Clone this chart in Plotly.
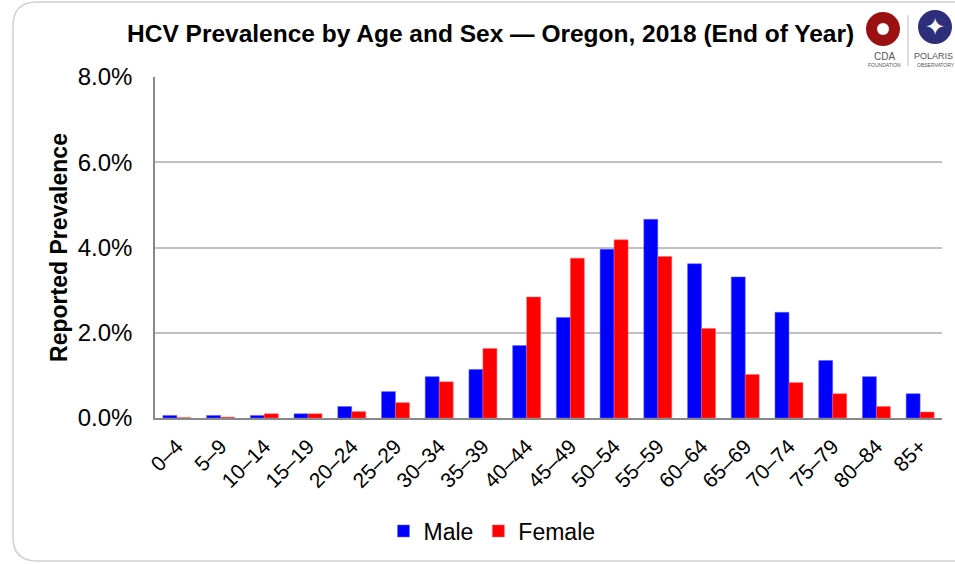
import plotly.graph_objects as go

age_groups = ["0–4", "5–9", "10–14", "15–19", "20–24", "25–29", "30–34", "35–39",
              "40–44", "45–49", "50–54", "55–59", "60–64", "65–69", "70–74",
              "75–79", "80–84", "85+"]
male = [0.06, 0.06, 0.06, 0.10, 0.27, 0.62, 0.97, 1.14, 1.70, 2.36, 3.96, 4.66,
        3.62, 3.31, 2.48, 1.35, 0.97, 0.57]
female = [0.01, 0.02, 0.10, 0.10, 0.15, 0.36, 0.85, 1.63, 2.84, 3.75, 4.18, 3.79,
          2.10, 1.02, 0.83, 0.57, 0.27, 0.14]
y_ticks = [0, 2, 4, 6, 8]
y_tick_labels = ["0.0%", "2.0%", "4.0%", "6.0%", "8.0%"]

W, H = 955, 564
L, R, T, B = 155, 13, 77, 146
pw, ph = W - L - R, H - T - B

def px(x):
    return (x - L) / pw

def py(y):
    return (H - B - y) / ph

FONT = "Liberation Sans, Arial, sans-serif"

fig = go.Figure()
fig.add_trace(go.Bar(x=age_groups, y=male, name="Male", marker_color="#0000FF",
                     marker_line_color="#6666ff", marker_line_width=0.5))
fig.add_trace(go.Bar(x=age_groups, y=female, name="Female", marker_color="#FF0000",
                     marker_line_color="#ff6666", marker_line_width=0.5))

# rounded card border
x0, x1, y0, y1, r = 13, 975, 2, 561, 24
rx, ry = r / pw, r / ph
path = (f"M {px(x0)+rx},{py(y0)} L {px(x1)},{py(y0)} L {px(x1)},{py(y1)} "
        f"L {px(x0)+rx},{py(y1)} Q {px(x0)},{py(y1)} {px(x0)},{py(y1)+ry} "
        f"L {px(x0)},{py(y0)-ry} Q {px(x0)},{py(y0)} {px(x0)+rx},{py(y0)} Z")
shapes = [dict(type="path", xref="paper", yref="paper", path=path,
               line=dict(color="#d0d0d0", width=1.5), layer="below")]
# logos (approximate)
shapes.append(dict(type="circle", xref="paper", yref="paper",
                   x0=px(866), x1=px(900), y0=py(46), y1=py(12),
                   fillcolor="#9B1111", line=dict(width=0)))
shapes.append(dict(type="circle", xref="paper", yref="paper",
                   x0=px(877), x1=px(889), y0=py(35), y1=py(23),
                   fillcolor="white", line=dict(width=0)))
shapes.append(dict(type="line", xref="paper", yref="paper",
                   x0=px(908), x1=px(908), y0=py(15), y1=py(66),
                   line=dict(color="#bbbbbb", width=1)))
shapes.append(dict(type="circle", xref="paper", yref="paper",
                   x0=px(918), x1=px(952), y0=py(44), y1=py(10),
                   fillcolor="#2d2f7a", line=dict(width=0)))

annotations = [
    dict(text="<b>HCV Prevalence by Age and Sex — Oregon, 2018 (End of Year)</b>",
         x=px(490), y=py(34), xref="paper", yref="paper", showarrow=False,
         font=dict(family=FONT, size=24.5, color="black"), xanchor="center", yanchor="middle"),
    dict(text="✦", x=px(935), y=py(27), xref="paper", yref="paper", showarrow=False,
         font=dict(size=24, color="white"), xanchor="center", yanchor="middle"),
    dict(text="CDA", x=px(884), y=py(56), xref="paper", yref="paper", showarrow=False,
         font=dict(family=FONT, size=10, color="#555"), xanchor="center", yanchor="middle"),
    dict(text="FOUNDATION", x=px(884), y=py(65), xref="paper", yref="paper", showarrow=False,
         font=dict(family=FONT, size=5, color="#555"), xanchor="center", yanchor="middle"),
    dict(text="POLARIS", x=px(912), y=py(56), xref="paper", yref="paper", showarrow=False,
         font=dict(family=FONT, size=9, color="#555"), xanchor="left", yanchor="middle"),
    dict(text="OBSERVATORY", x=px(915), y=py(65), xref="paper", yref="paper", showarrow=False,
         font=dict(family=FONT, size=5, color="#555"), xanchor="left", yanchor="middle"),
]

fig.update_layout(
    width=W, height=H,
    margin=dict(l=L, r=R, t=T, b=B),
    paper_bgcolor="white", plot_bgcolor="white",
    barmode="group", bargap=0.36, bargroupgap=0,
    font=dict(family=FONT, color="black"),
    showlegend=True,
    legend=dict(orientation="h", x=px(492), xanchor="center", y=py(531), yanchor="middle",
                font=dict(family=FONT, size=23, color="black"),
                itemwidth=30, traceorder="normal"),
    shapes=shapes,
    annotations=annotations,
    xaxis=dict(tickangle=-45, tickfont=dict(family=FONT, size=21, color="black"),
               showline=True, linecolor="#888888", linewidth=1.5, ticks="",
               ticklabelstandoff=6, showgrid=False, fixedrange=True),
    yaxis=dict(range=[0, 8], tickvals=y_ticks, ticktext=y_tick_labels,
               tickfont=dict(family=FONT, size=24, color="black"),
               showline=True, linecolor="#888888", linewidth=1.5,
               showgrid=True, gridcolor="#c0c0c0", gridwidth=1.5, ticks="",
               ticklabelstandoff=16, zeroline=False, fixedrange=True,
               title=dict(text="<b>Reported Prevalence</b>", standoff=4,
                          font=dict(family=FONT, size=23, color="black"))),
)

fig.write_html("out.html", config={"displayModeBar": False},
               post_script="document.body.style.margin='0';")
